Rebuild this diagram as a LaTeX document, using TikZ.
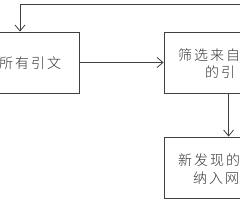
\documentclass[tikz,border=0pt]{standalone}
\usepackage{fontspec}
\newfontfamily\cjk[LetterSpace=14]{Noto Sans CJK SC Light}
\usetikzlibrary{arrows.meta}
\begin{document}
\begin{tikzpicture}[x=1pt,y=-1pt,
  box/.style={draw=black!75, line width=0.8pt, rectangle, inner sep=0pt},
  lbl/.style={anchor=west, inner sep=0pt, font=\cjk\fontsize{14}{14}\selectfont, text=black!80},
  conn/.style={draw=black!75, line width=0.8pt, -{Straight Barb[length=6pt,width=10pt]}}]
\useasboundingbox (0,0) rectangle (240,200);
\clip (0,0) rectangle (240,200);
\node[box, minimum width=160pt, minimum height=61pt] (all) at (-1,62.5) {};
\node[box, minimum width=160pt, minimum height=61pt] (sel) at (244,62.5) {};
\node[box, minimum width=160pt, minimum height=61pt] (new) at (244,167.5) {};
\node[lbl] (t1) at (-1,63) {所有引文};
\node[lbl] (t2) at (178,55) {筛选来自};
\node[lbl] (t3) at (205,72.5) {的引};
\node[lbl] (t4) at (178,160) {新发现的};
\node[lbl] (t5) at (193,178) {纳入网};
\coordinate (lp) at (260,4);
\draw[conn] (all.east) -- (sel.west);
\draw[conn] ([xshift=65pt]sel.south west) -- ([xshift=65pt]new.north west);
\draw[conn] (lp) -| ([xshift=21pt]all.north);
\end{tikzpicture}
\end{document}
